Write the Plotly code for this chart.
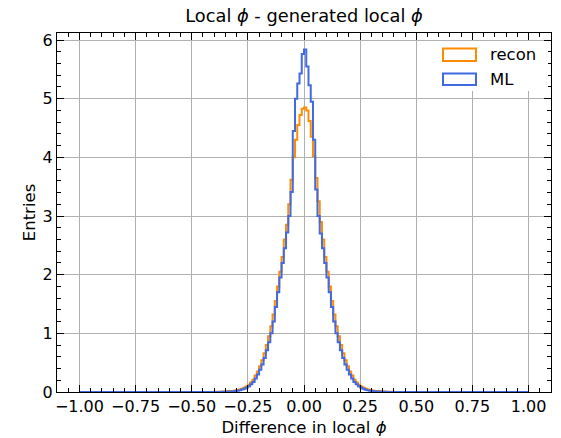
import numpy as np
import plotly.graph_objects as go

# Histogram: 200 bins of width 0.01 from -1 to 1 (density-normalised)
bin_lo, bin_hi, n_bins = -1.0, 1.0, 200

# Central bins, centres -0.445 ... 0.445 (90 bins); outer bins read as 0
ml_left = [0.0, 0.0, 0.0, 0.0, 0.001, 0.001, 0.0015, 0.002, 0.003, 0.004,
           0.005, 0.007, 0.009, 0.012, 0.017, 0.023, 0.031, 0.041, 0.056, 0.076,
           0.10, 0.13, 0.17, 0.23, 0.30, 0.38, 0.47, 0.58, 0.71, 0.85,
           1.00, 1.20, 1.45, 1.70, 1.95, 2.20, 2.45, 2.72, 3.00, 3.41,
           4.45, 5.00, 5.26, 5.43, 5.76]
ml_right = [5.84, 5.55, 5.23, 4.95, 4.30, 3.45, 3.00, 2.70, 2.45, 2.20,
            1.95, 1.70, 1.45, 1.20, 1.00, 0.85, 0.71, 0.58, 0.47, 0.38,
            0.30, 0.23, 0.17, 0.13, 0.10, 0.075, 0.055, 0.040, 0.030, 0.022,
            0.016, 0.012, 0.009, 0.007, 0.005, 0.004, 0.003, 0.002, 0.0015, 0.001,
            0.001, 0.0, 0.0, 0.0, 0.0]
recon_left = [0.0, 0.0, 0.001, 0.001, 0.002, 0.003, 0.004, 0.005, 0.006, 0.007,
              0.009, 0.012, 0.015, 0.019, 0.025, 0.032, 0.042, 0.055, 0.072, 0.095,
              0.125, 0.16, 0.21, 0.28, 0.35, 0.44, 0.54, 0.66, 0.80, 0.95,
              1.12, 1.32, 1.55, 1.80, 2.05, 2.30, 2.60, 2.85, 3.20, 3.62,
              4.00, 4.30, 4.55, 4.72, 4.83]
recon_right = [4.85, 4.80, 4.62, 4.35, 4.02, 3.65, 3.25, 2.90, 2.60, 2.30,
               2.05, 1.80, 1.55, 1.32, 1.12, 0.95, 0.80, 0.66, 0.54, 0.44,
               0.35, 0.28, 0.21, 0.16, 0.125, 0.095, 0.072, 0.055, 0.042, 0.032,
               0.025, 0.019, 0.015, 0.012, 0.009, 0.007, 0.006, 0.005, 0.004, 0.003,
               0.002, 0.001, 0.001, 0.0, 0.0]
outer_zeros = [0.0] * 55

ml_vals = outer_zeros + ml_left + ml_right + outer_zeros
recon_vals = outer_zeros + recon_left + recon_right + outer_zeros

series_names = ["recon", "ML"]
series_colors = ["#ff8c00", "#4169e1"]

edges = np.linspace(bin_lo, bin_hi, n_bins + 1)


def step_xy(vals):
    xs = [edges[0]] + list(edges) + [edges[-1]]
    ys = [0.0] + list(vals) + [vals[-1], 0.0]
    return xs, ys


fig = go.Figure()
for name, vals, col in zip(series_names, [recon_vals, ml_vals], series_colors):
    xs, ys = step_xy(vals)
    fig.add_trace(go.Scatter(x=xs, y=ys, mode="lines", name=name,
                             line=dict(color=col, width=2, shape="hv"),
                             showlegend=False))

FAM = "DejaVu Sans"
tick_font = dict(family=FAM, size=16, color="black")
label_font = dict(family=FAM, size=16.5, color="black")

L, R, T, B = 57, 10, 33, 46
W, H = 561, 438
pw, ph = W - L - R, H - T - B


def px2paper(px, py):
    return (px - L) / pw, (H - B - py) / ph


fig.update_layout(
    width=W, height=H,
    margin=dict(l=L, r=R, t=T, b=B, autoexpand=False),
    paper_bgcolor="white", plot_bgcolor="white",
    font=tick_font,
    title=dict(text="Local <i>ϕ</i> - generated local <i>ϕ</i>",
               x=(L + pw / 2) / W, xanchor="center",
               y=1 - 16 / H, yanchor="middle", yref="container",
               font=dict(family=FAM, size=17.8, color="black")),
)

axis_common = dict(showline=True, linecolor="black", linewidth=1, mirror="allticks",
                   ticks="inside", ticklen=7, tickwidth=1, tickcolor="black",
                   showgrid=True, gridcolor="#b0b0b0", gridwidth=1, zeroline=False,
                   tickfont=tick_font, automargin=False)

fig.update_xaxes(range=[-1.1, 1.1], tick0=-1.0, dtick=0.25, tickformat=".2f",
                 minor=dict(ticks="inside", dtick=0.05, ticklen=4, tickcolor="black", showgrid=False),
                 title=dict(text="Difference in local <i>ϕ</i>", font=label_font, standoff=6),
                 **axis_common)
fig.update_yaxes(range=[0, 6.12], tick0=0, dtick=1,
                 minor=dict(ticks="inside", dtick=0.2, ticklen=4, tickcolor="black", showgrid=False),
                 title=dict(text="Entries", font=label_font, standoff=2),
                 **axis_common)

# Legend (drawn manually to mimic outlined patches)
bx0, by0 = px2paper(436, 91)
bx1, by1 = px2paper(548, 41)
fig.add_shape(type="rect", xref="paper", yref="paper", x0=bx0, y0=by0, x1=bx1, y1=by1,
              fillcolor="white", line=dict(width=0), layer="above")
leg_rows = [(48.5, 61), (73.5, 85)]
for (ya, yb), name, col in zip(leg_rows, series_names, series_colors):
    x0, y0 = px2paper(443, yb)
    x1, y1 = px2paper(476, ya)
    fig.add_shape(type="rect", xref="paper", yref="paper", x0=x0, y0=y0, x1=x1, y1=y1,
                  fillcolor="rgba(0,0,0,0)", line=dict(color=col, width=2), layer="above")
    tx, ty = px2paper(488, (ya + yb) / 2)
    fig.add_annotation(x=tx, y=ty, xref="paper", yref="paper", text=name, showarrow=False,
                       xanchor="left", yanchor="middle", font=label_font)

fig.write_html("out.html")
